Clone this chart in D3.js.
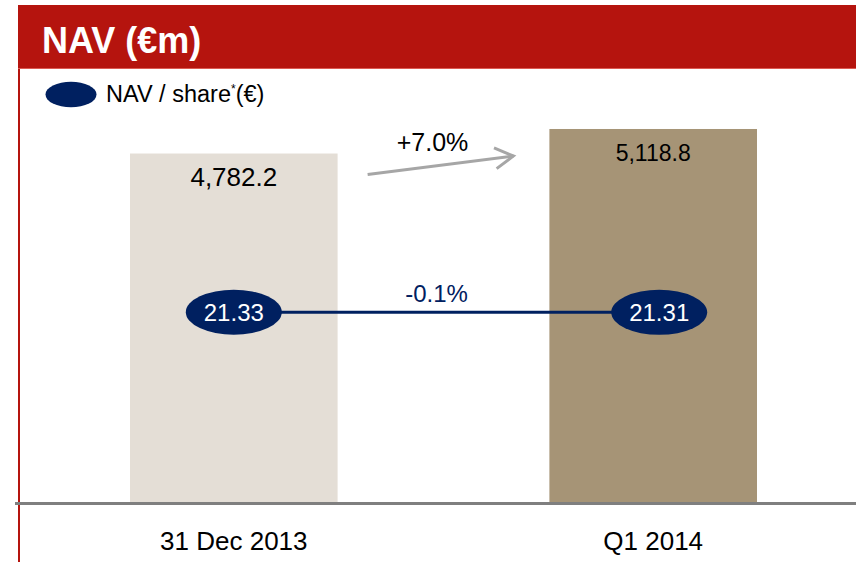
<!DOCTYPE html>
<html>
<head>
<meta charset="utf-8">
<script src="https://cdn.jsdelivr.net/npm/d3@7"></script>
<style>
  html, body { margin: 0; padding: 0; background: #fff; }
  svg { display: block; font-family: "Liberation Sans", Arial, sans-serif; }
</style>
</head>
<body>
<svg id="chart" width="856" height="562"></svg>
<script>
// data
const categories = ["31 Dec 2013", "Q1 2014"];
const navValues = [4782.2, 5118.8];        // NAV, €m (bars)
const navPerShare = [21.33, 21.31];        // NAV / share, € (ovals)
const barColors = ["#E4DED6", "#A69476"];
const valueFontSizes = [26, 23];
const ovalShift = [0, 6];                  // the slide nudges the 2nd oval right a bit

const width = 856;
const height = 562;
const baseY = 502;

const svg = d3.select("#chart");

// header band + left rule
svg.append("rect").attr("x", 18).attr("y", 5).attr("width", width - 18).attr("height", 64).attr("fill", "#B5140E");
svg.append("rect").attr("x", 18).attr("y", 68).attr("width", width - 18).attr("height", 1).attr("fill", "#DC5A52");
svg.append("rect").attr("x", 18).attr("y", 69).attr("width", 2).attr("height", height - 69).attr("fill", "#B5140E");
svg.append("text")
    .attr("x", 42).attr("y", 53)
    .attr("fill", "#fff").attr("font-size", 36).attr("font-weight", "bold")
    .text("NAV (€m)");

// legend
svg.append("ellipse").attr("cx", 71).attr("cy", 94.5).attr("rx", 25.5).attr("ry", 12.8).attr("fill", "#002060");
const leg = svg.append("text").attr("x", 106).attr("y", 101.5).attr("font-size", 23.5).attr("fill", "#000");
leg.append("tspan").text("NAV / share");
leg.append("tspan").attr("font-size", 12).attr("dy", -9).text("*");
leg.append("tspan").attr("dy", 9).text("(€)");

// scales
const x = d3.scaleBand().domain(categories).range([130, 757]).paddingInner(0.505).paddingOuter(0);
const y = d3.scaleLinear().domain([0, 5400]).range([baseY, 108.5]);
const yShare = d3.scaleLinear().domain([0, 40]).range([baseY, 146]);

const rows = categories.map((c, i) => ({ cat: c, nav: navValues[i], share: navPerShare[i], i }));

// bars
svg.append("g").selectAll("rect")
    .data(rows)
    .join("rect")
    .attr("x", d => x(d.cat))
    .attr("y", d => y(d.nav))
    .attr("width", x.bandwidth())
    .attr("height", d => baseY - y(d.nav))
    .attr("fill", d => barColors[d.i]);

// bar values
svg.append("g").selectAll("text")
    .data(rows)
    .join("text")
    .attr("x", d => x(d.cat) + x.bandwidth() / 2)
    .attr("y", d => y(d.nav) + 32)
    .attr("text-anchor", "middle")
    .attr("font-size", d => valueFontSizes[d.i])
    .attr("fill", "#000")
    .text(d => d3.format(",.1f")(d.nav));

// baseline
svg.append("line")
    .attr("x1", 15).attr("x2", width)
    .attr("y1", baseY + 1.5).attr("y2", baseY + 1.5)
    .attr("stroke", "#7F7F7F").attr("stroke-width", 3);

// category axis labels
const xAxis = svg.append("g")
    .attr("transform", `translate(0,${baseY})`)
    .call(d3.axisBottom(x).tickSize(0).tickPadding(30));
xAxis.select(".domain").remove();
xAxis.selectAll("text")
    .attr("font-size", 26)
    .attr("font-family", "\"Liberation Sans\", Arial, sans-serif")
    .attr("fill", "#000")
    .attr("dy", "0.7em");

// growth arrow for NAV
const navChange = navValues[1] / navValues[0] - 1;
const ax1 = x(categories[0]) + x.bandwidth() + 30;
const ax2 = x(categories[1]) - 36;
const ay1 = y(navValues[0]) + 21;
const ay2 = y(navValues[1]) + 27;
const arrow = svg.append("g").attr("stroke", "#A6A6A6").attr("stroke-width", 3).attr("fill", "none");
arrow.append("line").attr("x1", ax1).attr("y1", ay1).attr("x2", ax2).attr("y2", ay2);
const ang = Math.atan2(ay2 - ay1, ax2 - ax1);
const headLen = 21, headSpread = 0.52;
arrow.append("path")
    .attr("d", d3.line()([
        [ax2 - headLen * Math.cos(ang - headSpread), ay2 - headLen * Math.sin(ang - headSpread)],
        [ax2, ay2],
        [ax2 - headLen * Math.cos(ang + headSpread), ay2 - headLen * Math.sin(ang + headSpread)]
    ]))
    .attr("stroke-linejoin", "miter");
svg.append("text")
    .attr("x", (ax1 + ax2) / 2 - 8).attr("y", 151)
    .attr("text-anchor", "middle").attr("font-size", 25).attr("fill", "#000")
    .text((navChange >= 0 ? "+" : "") + d3.format(".1%")(navChange));

// NAV per share line + ovals
const cx = d => x(d.cat) + x.bandwidth() / 2 + ovalShift[d.i];
svg.append("path")
    .datum(rows)
    .attr("d", d3.line().x(cx).y(d => yShare(d.share)))
    .attr("stroke", "#002060").attr("stroke-width", 3).attr("fill", "none");

const shareChange = navPerShare[1] / navPerShare[0] - 1;
svg.append("text")
    .attr("x", 436.5).attr("y", 301.5)
    .attr("text-anchor", "middle").attr("font-size", 24).attr("fill", "#002060")
    .text(d3.format(".1%")(shareChange).replace("−", "-"));

const ovals = svg.append("g").selectAll("g")
    .data(rows)
    .join("g")
    .attr("transform", d => `translate(${cx(d)},${yShare(d.share)})`);
ovals.append("ellipse").attr("rx", 48).attr("ry", 22.5).attr("fill", "#002060");
ovals.append("text")
    .attr("text-anchor", "middle").attr("y", 8.5)
    .attr("font-size", 24).attr("fill", "#fff")
    .text(d => d3.format(".2f")(d.share));
</script>
</body>
</html>
